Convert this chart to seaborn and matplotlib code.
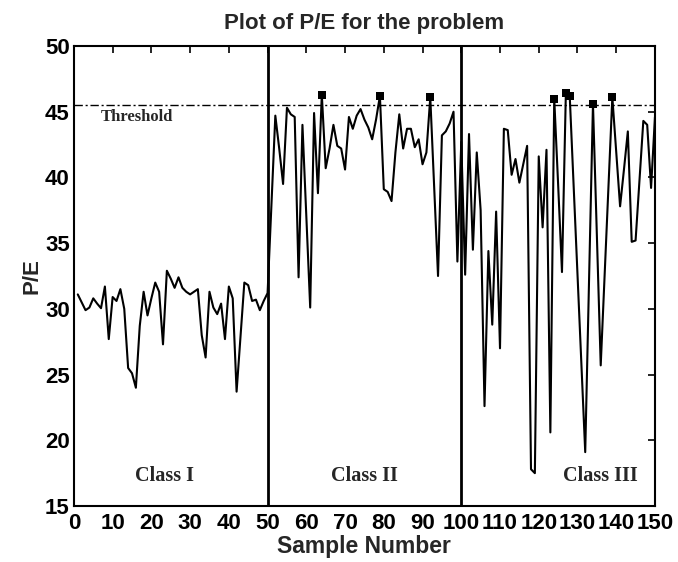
import numpy as np
import pandas as pd
import matplotlib
matplotlib.use("Agg")
import matplotlib.pyplot as plt
import seaborn as sns

# ---- data ----
class1 = [31.1, 30.5, 29.9, 30.1, 30.8, 30.4, 30.05, 31.7, 27.7, 30.9,
          30.6, 31.5, 30.0, 25.5, 25.1, 24.0, 28.7, 31.3, 29.5, 30.8,
          32.0, 31.3, 27.3, 32.9, 32.3, 31.6, 32.4, 31.6, 31.3, 31.1,
          31.3, 31.5, 28.0, 26.3, 31.3, 30.1, 29.6, 30.4, 27.7, 31.7,
          30.8, 23.7, 27.9, 32.0, 31.8, 30.6, 30.7, 29.9, 30.6, 31.2]
class2 = [38.0, 44.7, 42.2, 39.5, 45.3, 44.8, 44.6, 32.4, 44.0, 37.0,
          30.1, 44.9, 38.8, 46.3, 40.7, 42.2, 44.0, 42.4, 42.2, 40.6,
          44.6, 43.7, 44.7, 45.2, 44.4, 43.8, 42.9, 44.4, 46.2, 39.1,
          38.9, 38.2, 41.9, 44.8, 42.2, 43.7, 43.7, 42.3, 42.9, 41.0,
          41.9, 46.1, 39.3, 32.5, 43.2, 43.5, 44.1, 45.0, 33.6, 42.7]
class3 = [32.6, 43.3, 34.5, 41.9, 37.5, 22.6, 34.4, 28.8, 37.4, 27.0,
          43.7, 43.6, 40.2, 41.4, 39.6, 41.0, 42.4, 17.8, 17.5, 41.6,
          36.2, 42.1, 20.6, 46.0, 39.5, 32.8, 46.4, 46.2, 39.4, 32.6,
          25.9, 19.1, 32.4, 45.6, 35.6, 25.7, 32.5, 39.3, 46.1, 42.0,
          37.8, 40.6, 43.5, 35.1, 35.2, 39.7, 44.3, 44.0, 39.2, 44.6]
threshold = 45.5
class_bounds = [50, 100]
class_labels = ["Class I", "Class II", "Class III"]
class_label_x = [23.5, 75, 136]
xticks = list(range(0, 151, 10))
yticks = list(range(15, 51, 5))

pe = class1 + class2 + class3
samples = list(range(1, len(pe) + 1))
df = pd.DataFrame({"Sample": samples, "PE": pe})
above = df[df["PE"] > threshold]

# ---- style ----
sns.set_style("white")
plt.rcParams["font.family"] = ["Liberation Sans", "DejaVu Sans"]
plt.rcParams["font.weight"] = "bold"

fig = plt.figure(figsize=(6.78, 5.62), dpi=100)
ax = fig.add_axes([0.109, 0.0996, 0.857, 0.8186])

sns.lineplot(data=df, x="Sample", y="PE", ax=ax, color="black",
             linewidth=1.5, estimator=None, sort=False)
sns.scatterplot(data=above, x="Sample", y="PE", ax=ax, color="black",
                marker="s", s=28, edgecolor="black", linewidth=0, zorder=5)

ax.axhline(threshold, color="black", linewidth=1.0, linestyle=(0, (6, 2, 1.5, 2)))
for b in class_bounds:
    ax.axvline(b, color="black", linewidth=2.0)

ax.set_xlim(0, 150)
ax.set_ylim(15, 50)
ax.set_xticks(xticks)
ax.set_yticks(yticks)
ax.tick_params(direction="in", length=5, width=1.2, top=True, right=True,
               labelsize=16, colors="black")
ax.tick_params(axis="x", pad=5)
ax.tick_params(axis="y", pad=3)
for lab in ax.get_xticklabels() + ax.get_yticklabels():
    lab.set_fontweight("bold")
for sp in ax.spines.values():
    sp.set_visible(True)
    sp.set_linewidth(1.5)
    sp.set_color("black")

ax.set_title("Plot of P/E for the problem", fontsize=16, fontweight="bold", pad=12)
ax.set_xlabel("Sample Number", fontsize=16.5, fontweight="bold", labelpad=1)
ax.set_ylabel("P/E", fontsize=16, fontweight="bold", labelpad=2)

ax.text(7, 44.6, "Threshold", family=["Liberation Serif", "DejaVu Serif"],
        fontsize=12, fontweight="bold", va="center", ha="left")
for lx, lt in zip(class_label_x, class_labels):
    ax.text(lx, 17.3, lt, family=["Liberation Serif", "DejaVu Serif"],
            fontsize=14.5, fontweight="bold", ha="center", va="center")

fig.savefig("out.png", dpi=100)
